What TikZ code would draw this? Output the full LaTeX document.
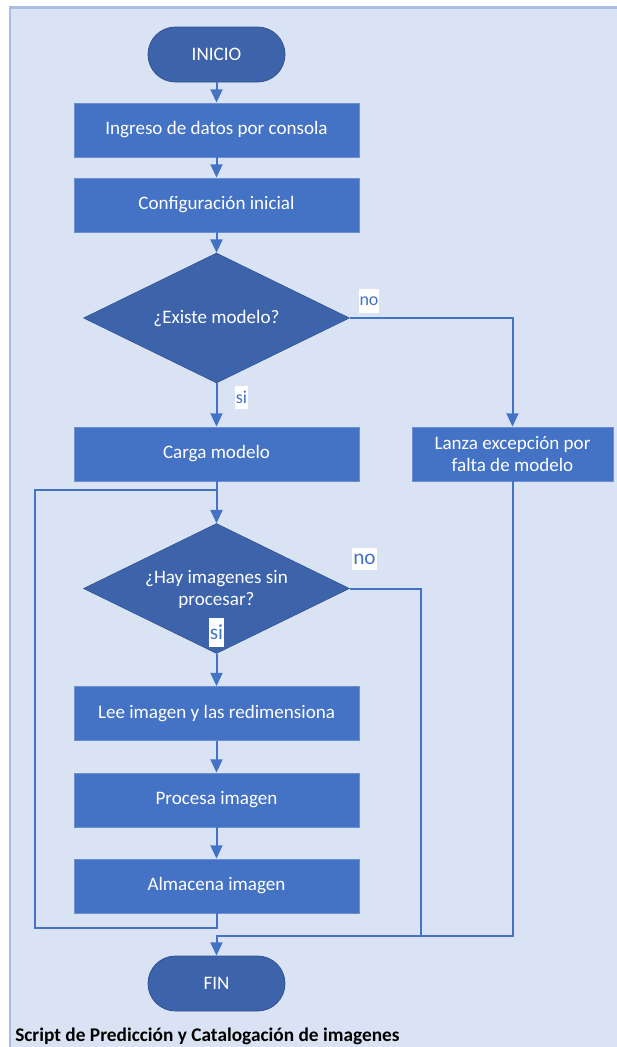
\documentclass[tikz,border=0pt]{standalone}
\usepackage{fontspec}
\setmainfont{Carlito}
\usetikzlibrary{shapes.geometric,shapes.misc,arrows.meta}
\definecolor{bgfill}{HTML}{DAE3F3}
\definecolor{bgline}{HTML}{A9BDE3}
\definecolor{boxfill}{HTML}{4472C4}
\definecolor{boxline}{HTML}{6A8FD3}
\definecolor{darkfill}{HTML}{3D63AB}
\definecolor{darkline}{HTML}{2F528F}
\definecolor{conn}{HTML}{4472C4}
\tikzset{
  procbox/.style={rectangle, fill=boxfill, draw=boxline, line width=0.6pt,
    minimum width=213.75pt, minimum height=40.5pt, inner sep=0pt,
    text=white, font=\fontsize{14.3pt}{17pt}\selectfont, align=center},
  termbox/.style={rounded rectangle, fill=darkfill, draw=darkline, line width=0.6pt,
    minimum width=102.75pt, minimum height=41.25pt, inner sep=0pt,
    text=white, font=\fontsize{14.3pt}{17pt}\selectfont},
  decbox/.style={diamond, fill=darkfill, draw=darkline, line width=0.4pt,
    minimum width=199.5pt, minimum height=97.5pt, inner sep=0pt},
  dectext/.style={text=white, font=\fontsize{14.3pt}{16.5pt}\selectfont, align=center, inner sep=0pt},
  conline/.style={draw=conn, line width=1.5pt},
  conarrow/.style={conline, -{Triangle[length=10pt,width=9pt]}},
  smalllabel/.style={fill=white, text=conn, font=\fontsize{13.5pt}{15pt}\selectfont, inner sep=0pt},
  biglabel/.style={fill=white, text=conn, font=\fontsize{16pt}{18pt}\selectfont, inner sep=0pt},
}
\begin{document}
\begin{tikzpicture}[x=0.75pt, y=-0.75pt]
\useasboundingbox (0,0) rectangle (617,1047);
% background
\fill[bgfill] (10,7.5) rectangle (617,1047);
\draw[bgline, line width=1.6pt] (10,1047) -- (10,7.5) -- (617,7.5);

% nodes
\node[termbox] (inicio) at (216.5,54.5) {INICIO};
\node[procbox] (ingreso) at (216.5,130) {Ingreso de datos por consola};
\node[procbox] (config) at (216.5,205) {Configuración inicial};
\node[decbox] (existe) at (216.5,318) {};
\node[dectext] (existet) at (existe.center) {¿Existe modelo?};
\node[procbox] (carga) at (216.5,454) {Carga modelo};
\node[procbox, minimum width=150.75pt] (lanza) at (512.5,454) {Lanza excepción por\\falta de modelo};
\node[decbox] (hay) at (216.5,588.5) {};
\node[dectext] (hayt) at (216.5,589) {¿Hay imagenes sin\\procesar?};
\node[procbox] (lee) at (216.5,713.5) {Lee imagen y las redimensiona};
\node[procbox] (procesa) at (216.5,800) {Procesa imagen};
\node[procbox] (almacena) at (216.5,886) {Almacena imagen};
\node[termbox] (fin) at (216.5,983.5) {FIN};
\node[anchor=west, inner sep=0pt, font=\fontsize{14.5pt}{16pt}\selectfont\bfseries] (caption) at (15,1036) {Script de Predicción y Catalogación de imagenes};

% helper coordinates
\coordinate (loopjoin) at (216.5,490);
\coordinate (loopbot) at (216.5,928);
\coordinate (loopbl) at (35,928);
\coordinate (looptl) at (35,490);
\coordinate (nohay) at (420.5,588.5);
\coordinate (nohaybot) at (420.5,936);
\coordinate (lanzabot) at (512.5,936);
\coordinate (finin) at (216.5,936);

% connectors
\draw[conarrow] (inicio.south) -- (ingreso.north);
\draw[conarrow] (ingreso.south) -- (config.north);
\draw[conarrow] (config.south) -- (existe.north);
\draw[conarrow] (existe.east) -| (lanza.north);
\draw[conarrow] (existe.south) -- (carga.north);
\draw[conarrow] (carga.south) -- (hay.north);
\draw[conarrow] (hay.south) -- (lee.north);
\draw[conarrow] (lee.south) -- (procesa.north);
\draw[conarrow] (procesa.south) -- (almacena.north);
\draw[conline] (almacena.south) -- (loopbot) -- (loopbl) -- (looptl) -- (loopjoin);
\draw[conline] (hay.east) -- (nohay) -- (nohaybot);
\draw[conarrow] (lanza.south) -- (lanzabot) -- (finin) -- (fin.north);

% labels
\node[smalllabel, minimum width=15pt, minimum height=18pt] (no1) at (369,301) {no};
\node[smalllabel, minimum width=9.75pt, minimum height=17.25pt] (si1) at (241.5,397.5) {si};
\node[biglabel, minimum width=18.75pt, minimum height=16.5pt] (no2) at (364.5,559) {no};
\node[biglabel, minimum width=11.25pt, minimum height=21.75pt] (si2) at (216.5,632.5) {si};
\end{tikzpicture}
\end{document}
